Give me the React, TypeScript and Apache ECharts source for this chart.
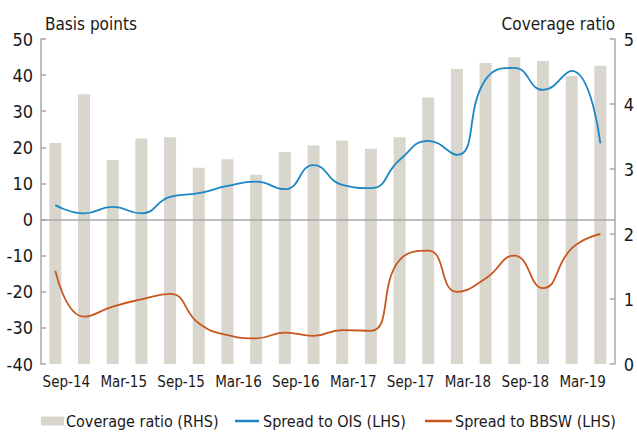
import React, { useEffect, useRef } from "react";
import * as echarts from "echarts";

const categories = [
  "Sep-14", "Dec-14", "Mar-15", "Jun-15", "Sep-15", "Dec-15", "Mar-16", "Jun-16",
  "Sep-16", "Dec-16", "Mar-17", "Jun-17", "Sep-17", "Dec-17", "Mar-18", "Jun-18",
  "Sep-18", "Dec-18", "Mar-19", "Jun-19",
];
const coverageRatio = [
  3.40, 4.15, 3.14, 3.47, 3.49, 3.02, 3.15, 2.91, 3.26, 3.36,
  3.44, 3.31, 3.49, 4.10, 4.54, 4.63, 4.72, 4.66, 4.43, 4.59,
];
const spreadOIS = [
  4.0, 1.7, 3.5, 1.7, 6.3, 7.3, 9.3, 10.5, 8.4, 15.1,
  9.6, 8.7, 16.5, 21.8, 17.9, 38.8, 42.0, 35.9, 41.2, 21.1,
];
const spreadBBSW = [
  -14.2, -26.9, -24.1, -22.1, -20.6, -28.7, -32.0, -32.9, -31.3, -32.2,
  -30.6, -30.8, -11.2, -8.6, -20.0, -16.3, -10.0, -19.0, -8.0, -4.0,
];
const seriesNames = ["Coverage ratio (RHS)", "Spread to OIS (LHS)", "Spread to BBSW (LHS)"];
const leftTicks = { min: -40, max: 50, interval: 10 };
const rightTicks = { min: 0, max: 5, interval: 1 };

const FONT = "'DejaVu Sans Condensed', 'Liberation Sans Narrow', 'Roboto', sans-serif";
const TEXT = "#1a1a1a";
const AXIS_GRAY = "#a8a8a8";
const BAR_COLOR = "#d9d6ce";
const BLUE = "#1b87c6";
const ORANGE = "#c8561f";

export default function App() {
  const ref = useRef<HTMLDivElement>(null);
  useEffect(() => {
    if (!ref.current) return;
    const chart = echarts.init(ref.current, null, { renderer: "svg" });
    const legendY = 421;
    const legendFont = `16px ${FONT}`;
    chart.setOption({
      animation: false,
      textStyle: { fontFamily: FONT, color: TEXT },
      grid: { left: 41, right: 21, top: 39, bottom: 68, containLabel: false },
      graphic: [
        {
          type: "text", left: 45, top: 15,
          style: { text: "Basis points", font: `17px ${FONT}`, fill: TEXT },
        },
        {
          type: "text", right: 22, top: 15,
          style: { text: "Coverage ratio", font: `17px ${FONT}`, fill: TEXT },
        },
        {
          type: "rect", shape: { x: 41, y: legendY - 4.5, width: 23, height: 9 },
          style: { fill: BAR_COLOR },
        },
        {
          type: "text", x: 66, y: legendY,
          style: { text: seriesNames[0], font: legendFont, fill: TEXT, verticalAlign: "middle" },
        },
        {
          type: "line", shape: { x1: 235, y1: legendY, x2: 259, y2: legendY },
          style: { stroke: BLUE, lineWidth: 2.5 },
        },
        {
          type: "text", x: 263, y: legendY,
          style: { text: seriesNames[1], font: legendFont, fill: TEXT, verticalAlign: "middle" },
        },
        {
          type: "line", shape: { x1: 425, y1: legendY, x2: 452, y2: legendY },
          style: { stroke: ORANGE, lineWidth: 2.5 },
        },
        {
          type: "text", x: 455, y: legendY,
          style: { text: seriesNames[2], font: legendFont, fill: TEXT, verticalAlign: "middle" },
        },
      ],
      xAxis: {
        type: "category",
        data: categories,
        boundaryGap: true,
        axisLine: { show: false },
        axisTick: { show: false },
        axisLabel: {
          interval: 1,
          fontSize: 15,
          fontFamily: FONT,
          color: TEXT,
          margin: 10,
          padding: [0, 0, 0, 22],
        },
        splitLine: { show: false },
      },
      yAxis: [
        {
          type: "value",
          ...leftTicks,
          axisLine: { show: true, lineStyle: { color: AXIS_GRAY, width: 1.5 } },
          axisTick: { show: true, inside: true, length: 5, lineStyle: { color: AXIS_GRAY, width: 1.5 } },
          axisLabel: { fontSize: 18, fontFamily: FONT, color: TEXT, margin: 8 },
          splitLine: { show: false },
        },
        {
          type: "value",
          ...rightTicks,
          position: "right",
          axisLine: { show: true, lineStyle: { color: AXIS_GRAY, width: 1.5 } },
          axisTick: { show: true, inside: true, length: 5, lineStyle: { color: AXIS_GRAY, width: 1.5 } },
          axisLabel: { fontSize: 18, fontFamily: FONT, color: TEXT, margin: 9 },
          splitLine: { show: false },
        },
      ],
      series: [
        {
          name: seriesNames[0],
          type: "bar",
          yAxisIndex: 1,
          data: coverageRatio,
          barWidth: 12,
          itemStyle: { color: BAR_COLOR },
          z: 1,
        },
        {
          name: seriesNames[1],
          type: "line",
          yAxisIndex: 0,
          data: spreadOIS,
          smooth: 0.5,
          symbol: "none",
          lineStyle: { color: BLUE, width: 1.8 },
          itemStyle: { color: BLUE },
          z: 3,
          markLine: {
            silent: true,
            symbol: "none",
            label: { show: false },
            lineStyle: { color: AXIS_GRAY, type: "solid", width: 1.5 },
            data: [{ yAxis: 0 }],
            z: 2,
          },
        },
        {
          name: seriesNames[2],
          type: "line",
          yAxisIndex: 0,
          data: spreadBBSW,
          smooth: 0.5,
          symbol: "none",
          lineStyle: { color: ORANGE, width: 1.8 },
          itemStyle: { color: ORANGE },
          z: 3,
        },
      ],
    });
    return () => chart.dispose();
  }, []);
  return <div ref={ref} style={{ width: 637, height: 432, position: "absolute", left: 0, top: 0 }} />;
}
